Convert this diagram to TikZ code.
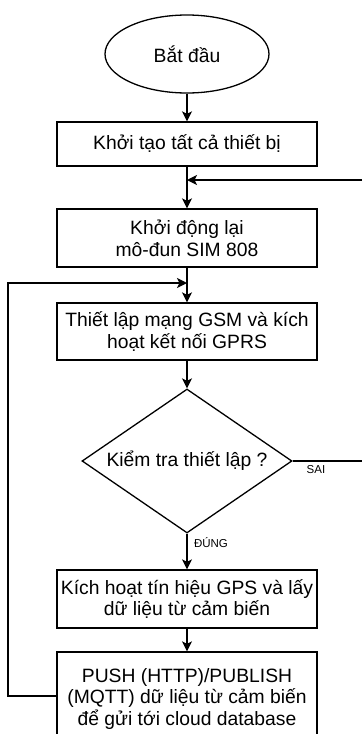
\documentclass[tikz,border=0pt]{standalone}
\usepackage{fontspec}
\setmainfont{Liberation Sans}
\usetikzlibrary{shapes.geometric,arrows.meta}
\begin{document}
\begin{tikzpicture}[x=1pt,y=-1pt,
  every node/.style={font=\fontsize{19.3}{21.8}\selectfont, inner sep=0pt, text=black},
  proc/.style={draw, rectangle, minimum width=260pt, line width=1.3pt, align=center},
  term/.style={draw, ellipse, minimum width=164pt, minimum height=78pt, line width=1.3pt},
  dec/.style={draw, diamond, aspect=1.46, minimum width=210pt, minimum height=144pt, line width=1.3pt},
  flow/.style={line width=1.3pt, -{Stealth[length=10pt,width=10pt,inset=2.5pt]}},
  plain/.style={line width=1.3pt},
  lbl/.style={font=\fontsize{11.5}{13}\selectfont}]
\useasboundingbox (0,0) rectangle (362,734);
\clip (0,0) rectangle (362,734);

\node[term] (start) at (187,54) {Bắt đầu};
\node[proc, minimum height=44pt] (b1) at (187,144) {Khởi tạo tất cả thiết bị};
\node[proc, minimum height=58pt] (b2) at (187,238) {Khởi động lại\\mô-đun SIM 808};
\node[proc, minimum height=57pt] (b3) at (187,331.5) {Thiết lập mạng GSM và kích\\hoạt kết nối GPRS};
\node[dec] (d) at (187,461) {Kiểm tra thiết lập ?};
\node[proc, minimum height=58pt] (b4) at (187,599) {Kích hoạt tín hiệu GPS và lấy\\dữ liệu từ cảm biến};
\node[proc, minimum height=94pt] (b5) at (187,699) {PUSH (HTTP)/PUBLISH\\(MQTT) dữ liệu từ cảm biến\\để gửi tới cloud database};

\coordinate (rin) at (362,180);
\coordinate (j1) at (187,180);
\coordinate (j2) at (187,283);
\coordinate (rout) at (362,461);
\coordinate (lx) at (8,696);

\draw[flow] (start) -- (b1);
\draw[flow] (b1) -- (b2);
\draw[flow] (rin) -- (j1);
\draw[flow] (b2) -- (b3);
\draw[flow] (b3) -- (d);
\draw[flow] (d) -- (b4);
\draw[flow] (b4) -- (b5);
\draw[plain] (d.east) -- (rout);
\draw[flow] ([yshift=3pt]b5.west) -- (lx) |- (j2);

\node[lbl] (sai) at (316,470) {SAI};
\node[lbl] (dung) at (211,543) {ĐÚNG};
\end{tikzpicture}
\end{document}
